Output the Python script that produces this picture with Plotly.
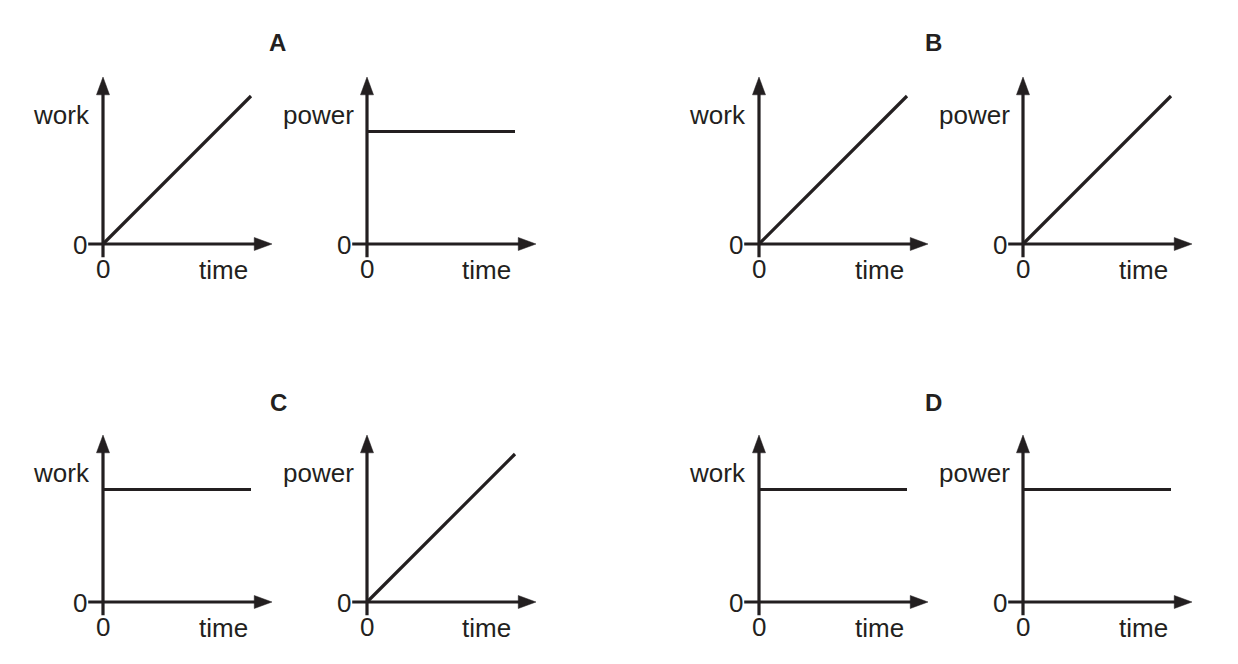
import plotly.graph_objects as go

# ---- data ----
panel_letters = ["A", "B", "C", "D"]
quantities = ["work", "power"]
time_pts = [0, 10]
work_A = [0, 10]
power_A = [7.6, 7.6]
work_B = [0, 10]
power_B = [0, 10]
work_C = [7.6, 7.6]
power_C = [0, 10]
work_D = [7.6, 7.6]
power_D = [7.6, 7.6]
series = [work_A, power_A, work_B, power_B, work_C, power_C, work_D, power_D]

# ---- layout geometry ----
W, H = 1238, 664
PAGE_OFF = 8                 # default body margin of the html page
S = 14.8                     # px per unit
XMIN, XMAX = -1.6, 12.2
YMIN, YMAX = -1.6, 12.2
X_TIP, Y_TIP = 11.42, 11.28  # arrow tips (units)
AH_LEN, AH_HALF = 1.2, 0.44  # arrowhead size (units)
origins = [(103, 244), (367, 244), (759, 244), (1023, 244),
           (103, 602), (367, 602), (759, 602), (1023, 602)]
title_pos = [(277, 43), (933, 43), (278, 402), (933, 402)]

INK = "#231f20"
FONT = "Liberation Sans, Arial, sans-serif"

fig = go.Figure()
layout = dict(width=W, height=H, margin=dict(l=0, r=0, t=0, b=0),
              paper_bgcolor="white", plot_bgcolor="white", showlegend=False,
              annotations=[])

for i, (ox0, oy0) in enumerate(origins):
    ox, oy = ox0 - PAGE_OFF, oy0 - PAGE_OFF
    sfx = "" if i == 0 else str(i + 1)
    xref, yref = "x" + sfx, "y" + sfx
    layout["xaxis" + sfx] = dict(
        domain=[(ox + XMIN * S) / W, (ox + XMAX * S) / W], range=[XMIN, XMAX],
        visible=False, fixedrange=True, anchor=yref)
    layout["yaxis" + sfx] = dict(
        domain=[1 - (oy - YMIN * S) / H, 1 - (oy - YMAX * S) / H], range=[YMIN, YMAX],
        visible=False, fixedrange=True, anchor=xref)

    # axes lines
    fig.add_trace(go.Scatter(x=[-1.0, X_TIP - AH_LEN * 0.6], y=[0, 0], mode="lines",
                             line=dict(color=INK, width=3.2), xaxis=xref, yaxis=yref,
                             hoverinfo="skip"))
    fig.add_trace(go.Scatter(x=[0, 0], y=[-0.9, Y_TIP - AH_LEN * 0.6], mode="lines",
                             line=dict(color=INK, width=3.2), xaxis=xref, yaxis=yref,
                             hoverinfo="skip"))
    # arrowheads
    fig.add_trace(go.Scatter(x=[X_TIP, X_TIP - AH_LEN, X_TIP - AH_LEN, X_TIP],
                             y=[0, AH_HALF, -AH_HALF, 0], mode="lines", fill="toself",
                             fillcolor=INK, line=dict(color=INK, width=0.5),
                             xaxis=xref, yaxis=yref, hoverinfo="skip"))
    fig.add_trace(go.Scatter(x=[0, AH_HALF, -AH_HALF, 0],
                             y=[Y_TIP, Y_TIP - AH_LEN, Y_TIP - AH_LEN, Y_TIP], mode="lines",
                             fill="toself", fillcolor=INK, line=dict(color=INK, width=0.5),
                             xaxis=xref, yaxis=yref, hoverinfo="skip"))
    # data line
    fig.add_trace(go.Scatter(x=time_pts, y=series[i], mode="lines",
                             line=dict(color=INK, width=3.2), xaxis=xref, yaxis=yref,
                             hoverinfo="skip"))

    lab = dict(size=26, family=FONT, color=INK)
    anns = layout["annotations"]
    anns.append(dict(text="0", x=0, y=0, xref=xref, yref=yref, showarrow=False,
                     xanchor="right", yanchor="middle", xshift=-14, yshift=-1, font=lab))
    anns.append(dict(text="0", x=0, y=0, xref=xref, yref=yref, showarrow=False,
                     xanchor="center", yanchor="middle", yshift=-25, font=lab))
    anns.append(dict(text="time", x=0, y=0, xref=xref, yref=yref, showarrow=False,
                     xanchor="center", yanchor="middle", xshift=120, yshift=-26, font=lab))
    anns.append(dict(text=quantities[i % 2], x=0, y=0, xref=xref, yref=yref,
                     showarrow=False, xanchor="right", yanchor="middle",
                     xshift=-11, yshift=129, font=lab))

for letter, (px, py) in zip(panel_letters, title_pos):
    layout["annotations"].append(dict(
        text="<b>" + letter + "</b>", x=(px - PAGE_OFF) / W, y=1 - (py - PAGE_OFF) / H,
        xref="paper", yref="paper",
        showarrow=False, xanchor="center", yanchor="middle",
        font=dict(size=24, family=FONT, color=INK)))

fig.update_layout(**layout)
fig.write_html("out.html")
